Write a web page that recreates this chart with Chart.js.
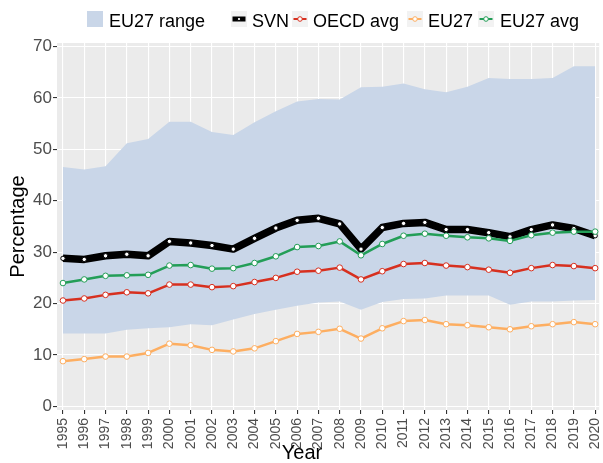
<!DOCTYPE html>
<html>
<head>
<meta charset="utf-8">
<script src="https://cdn.jsdelivr.net/npm/chart.js@4.4.1/dist/chart.umd.min.js"></script>
<style>
html,body{margin:0;padding:0;background:#fff;}
canvas{display:block;}
</style>
</head>
<body>
<canvas id="c" width="603" height="463"></canvas>
<script>
const years = [1995,1996,1997,1998,1999,2000,2001,2002,2003,2004,2005,2006,2007,2008,2009,2010,2011,2012,2013,2014,2015,2016,2017,2018,2019,2020];
const svn = [28.8,28.6,29.3,29.6,29.3,32.1,31.8,31.3,30.6,32.7,34.7,36.2,36.6,35.5,30.6,34.8,35.6,35.8,34.4,34.4,33.8,33.0,34.4,35.3,34.6,33.2];
const oecdAvg = [20.6,21.0,21.7,22.2,22.0,23.7,23.7,23.2,23.4,24.2,25.0,26.2,26.4,27.0,24.7,26.3,27.7,27.9,27.4,27.1,26.6,26.0,26.9,27.5,27.3,26.9];
const eu27 = [8.8,9.2,9.7,9.7,10.4,12.2,11.9,11.0,10.7,11.3,12.7,14.1,14.5,15.1,13.2,15.2,16.6,16.8,16.0,15.8,15.4,15.0,15.6,16.0,16.4,16.0];
const eu27Avg = [24.0,24.7,25.4,25.5,25.6,27.4,27.5,26.8,26.9,27.9,29.2,31.0,31.2,32.1,29.4,31.6,33.2,33.6,33.2,32.9,32.7,32.2,33.3,33.8,34.0,34.0];
const rangeLow = [14.2,14.2,14.2,14.9,15.2,15.4,16.0,15.8,16.9,18.0,18.8,19.6,20.2,20.4,18.8,20.3,20.9,21.0,21.6,21.6,21.6,19.8,20.4,20.4,20.6,20.7];
const rangeHigh = [46.6,46.1,46.7,51.2,52.0,55.4,55.4,53.4,52.8,55.3,57.4,59.3,59.8,59.7,62.1,62.2,62.8,61.7,61.1,62.2,63.9,63.7,63.7,63.9,66.2,66.2];
const yTicks = [0,10,20,30,40,50,60,70];
const legendLabels = ["EU27 range","SVN","OECD avg","EU27","EU27 avg"];
const xTitle = "Year";
const yTitle = "Percentage";

const C = {
  range: 'rgb(201,214,232)',
  svn: '#000000',
  oecd: '#D7301F',
  eu27: '#FDAE61',
  eu27avg: '#239E57',
  panel: '#EBEBEB'
};
const FONT = '"Liberation Sans", Arial, sans-serif';

const pts = arr => arr.map((v,i)=>({x:years[i], y:v}));

const panelBg = {
  id:'panelBg',
  beforeDraw(chart){
    const {ctx, chartArea:a} = chart;
    ctx.save();
    ctx.fillStyle = C.panel;
    ctx.fillRect(a.left, a.top, a.right-a.left, a.bottom-a.top);
    ctx.restore();
  }
};

const legendPlugin = {
  id:'ggLegend',
  afterDraw(chart){
    const ctx = chart.ctx;
    ctx.save();
    const top = 11, size = 16, cy = top + size/2;
    ctx.fillStyle = C.range;
    ctx.fillRect(87, top, size, size);
    const keys = [
      {x:231, color:C.svn, lw:5, r:1.6},
      {x:292, color:C.oecd, lw:2, r:2.3},
      {x:407, color:C.eu27, lw:2, r:2.3},
      {x:478, color:C.eu27avg, lw:2, r:2.3}
    ];
    keys.forEach(k=>{
      ctx.fillStyle = '#F2F2F2';
      ctx.fillRect(k.x, top, size, size);
      ctx.strokeStyle = k.color;
      ctx.lineWidth = k.lw;
      ctx.beginPath();
      ctx.moveTo(k.x+1.5, cy); ctx.lineTo(k.x+size-1.5, cy);
      ctx.stroke();
      ctx.beginPath();
      ctx.arc(k.x+size/2, cy, k.r, 0, Math.PI*2);
      ctx.fillStyle = '#fff';
      ctx.fill();
      ctx.lineWidth = 1;
      ctx.strokeStyle = k.color;
      ctx.stroke();
    });
    ctx.fillStyle = '#000';
    ctx.font = '18px ' + FONT;
    ctx.textBaseline = 'alphabetic';
    ctx.textAlign = 'left';
    const tx = [109, 252, 313, 428, 500];
    legendLabels.forEach((t,i)=>ctx.fillText(t, tx[i], 26.5));
    ctx.font = '20px ' + FONT;
    ctx.textAlign = 'center';
    ctx.textBaseline = 'middle';
    ctx.fillText(xTitle, 302, 453);
    ctx.restore();
  }
};

const lineDs = (label, data, color, width, order, r) => ({
  label, data: pts(data),
  borderColor: color, borderWidth: width,
  pointRadius: r, pointHoverRadius: r,
  pointBackgroundColor: '#ffffff', pointBorderColor: color, pointBorderWidth: 1,
  fill: false, tension: 0, order,
  borderJoinStyle: 'round', borderCapStyle: 'butt'
});

new Chart(document.getElementById('c'), {
  type: 'line',
  data: {
    datasets: [
      {label:'rangeLow', data: pts(rangeLow), borderWidth:0, borderColor:'rgba(0,0,0,0)', pointRadius:0, fill:false, order:20, tension:0},
      {label:'EU27 range', data: pts(rangeHigh), borderWidth:0, borderColor:'rgba(0,0,0,0)', backgroundColor:C.range, pointRadius:0, fill:'-1', order:19, tension:0},
      lineDs('SVN', svn, C.svn, 7.5, 10, 2.2),
      lineDs('EU27', eu27, C.eu27, 2.5, 4, 2.8),
      lineDs('OECD avg', oecdAvg, C.oecd, 2.5, 3, 2.8),
      lineDs('EU27 avg', eu27Avg, C.eu27avg, 2.5, 2, 2.8)
    ]
  },
  options: {
    responsive: false,
    devicePixelRatio: 1,
    animation: false,
    events: [],
    layout: { padding: { top: 43, left: 0, right: 0, bottom: 0 } },
    plugins: { legend: { display: false }, tooltip: { enabled: false } },
    scales: {
      x: {
        type: 'linear',
        min: 1994.72, max: 2020.19,
        afterBuildTicks: s => { s.ticks = years.map(v=>({value:v})); },
        afterFit: s => { s.height = 53; s.paddingLeft = 0; s.paddingRight = 0; },
        grid: { color: '#ffffff', lineWidth: 1.1, tickColor: '#333333', tickLength: 4 },
        border: { display: false },
        ticks: {
          autoSkip: false, minRotation: 90, maxRotation: 90, padding: 4,
          color: '#4D4D4D', font: { family: FONT, size: 14 },
          callback: v => String(v)
        },
        title: { display: false }
      },
      y: {
        type: 'linear',
        min: -0.7, max: 70.7,
        afterBuildTicks: s => { s.ticks = yTicks.map(v=>({value:v})); },
        afterFit: s => { s.width = 57; s.paddingTop = 0; s.paddingBottom = 0; },
        grid: { color: '#ffffff', lineWidth: 1.1, tickColor: '#333333', tickLength: 4 },
        border: { display: false },
        ticks: { padding: 1, color: '#4D4D4D', font: { family: FONT, size: 17 }, callback: v => String(v) },
        title: { display: true, text: yTitle, color: '#000', font: { family: FONT, size: 20, lineHeight: 1 }, padding: { top: 8, bottom: 0 } }
      }
    }
  },
  plugins: [panelBg, legendPlugin]
});
</script>
</body>
</html>
